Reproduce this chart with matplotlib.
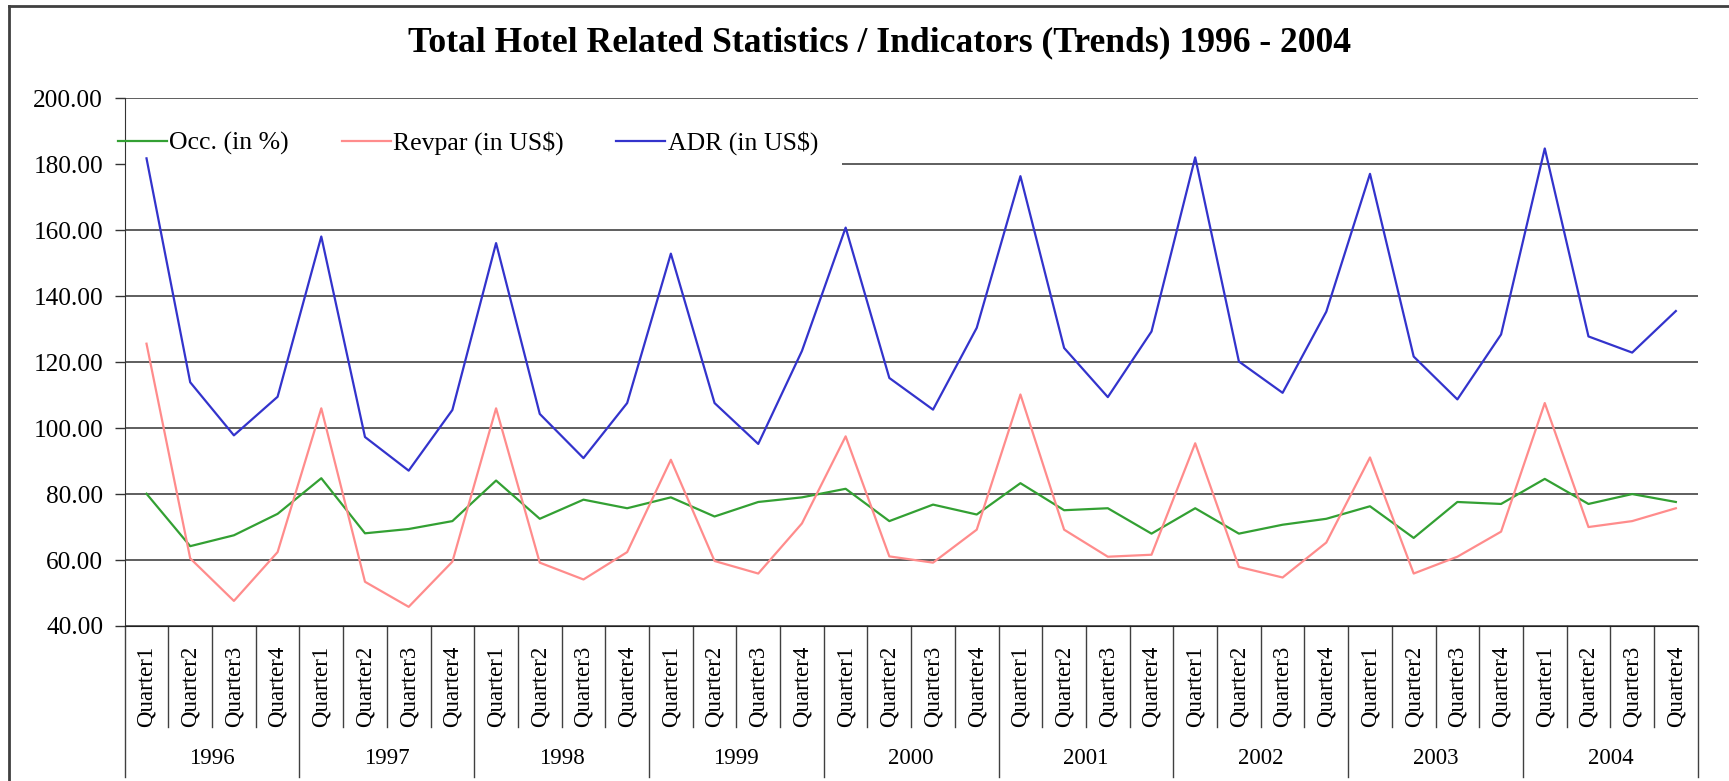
import matplotlib.pyplot as plt
from matplotlib.lines import Line2D
from matplotlib.patches import Rectangle

years = ['1996', '1997', '1998', '1999', '2000', '2001', '2002', '2003', '2004']
quarters = ['Quarter1', 'Quarter2', 'Quarter3', 'Quarter4']

occ = [80.1, 64.2, 67.5, 74.0, 84.8, 68.1, 69.4, 71.8, 84.1, 72.5, 78.3, 75.7,
       79.0, 73.2, 77.6, 79.0, 81.6, 71.8, 76.8, 73.8, 83.3, 75.1, 75.7, 68.0,
       75.7, 68.0, 70.7, 72.5, 76.3, 66.7, 77.6, 77.0, 84.6, 77.0, 80.0, 77.6]
revpar = [125.6, 60.5, 47.6, 62.4, 106.0, 53.4, 45.8, 59.5, 106.0, 59.2, 54.1, 62.4,
          90.4, 59.7, 55.9, 71.1, 97.5, 61.1, 59.2, 69.2, 110.2, 69.2, 61.0, 61.6,
          95.4, 57.9, 54.7, 65.3, 91.1, 55.9, 61.0, 68.6, 107.6, 70.0, 71.8, 75.7]
adr = [181.8, 113.9, 97.8, 109.5, 158.1, 97.3, 87.1, 105.5, 156.1, 104.3, 90.9, 107.6,
       152.9, 107.6, 95.2, 123.4, 160.8, 115.2, 105.6, 130.4, 176.4, 124.3, 109.4, 129.3,
       182.1, 120.2, 110.7, 135.3, 177.1, 121.7, 108.7, 128.4, 184.8, 127.8, 122.9, 135.5]

plt.rcParams['font.family'] = ['Liberation Serif', 'DejaVu Serif']

fig = plt.figure(figsize=(17.29, 7.81), dpi=100)
ax = fig.add_axes([0.0721, 0.1985, 0.9098, 0.6756])

x = list(range(len(occ)))
ax.plot(x, occ, color='#33A033', lw=1.6, label='Occ. (in %)', zorder=3)
ax.plot(x, revpar, color='#FF8C8C', lw=1.6, label='Revpar (in US$)', zorder=3)
ax.plot(x, adr, color='#3333CC', lw=1.6, label='ADR (in US$)', zorder=3)

ax.set_xlim(-0.5, len(occ) - 0.5)
ax.set_ylim(40, 200)
ax.set_yticks(range(40, 201, 20))
ax.set_yticklabels([f'{v:.2f}' for v in range(40, 201, 20)], fontsize=18.2)
ax.yaxis.grid(True, color='#333333', lw=1.1, zorder=1)
ax.tick_params(axis='y', length=7, width=1, pad=8.5, color='#333333')
ax.set_xticks([])
for side in ['top', 'right']:
    ax.spines[side].set_visible(False)
ax.spines['left'].set_color('#333333')
ax.spines['bottom'].set_color('#202020')

# white area behind the legend hides part of the 180 gridline
ax.add_patch(Rectangle((0.001, 0.855), 0.455, 0.045, transform=ax.transAxes,
                       facecolor='white', edgecolor='none', zorder=2))

# category axis: quarters and years
trans = ax.get_xaxis_transform()
for i in range(len(occ)):
    ax.text(i, -0.1146, quarters[i % 4], rotation=90, ha='center', va='center',
            fontsize=16.5, transform=trans, clip_on=False)
for i in range(len(occ) + 1):
    bottom = -0.2862 if i % 4 == 0 else -0.1914
    ax.add_line(Line2D([i - 0.5, i - 0.5], [0, bottom], transform=trans,
                       color='#404040', lw=1, clip_on=False))
for k, yr in enumerate(years):
    ax.text(4 * k + 1.5, -0.252, yr, ha='center', va='center', fontsize=16.5,
            transform=trans, clip_on=False)

leg = ax.legend(loc='center left', bbox_to_anchor=(-0.0042, 0.915), ncol=3, frameon=False,
                fontsize=18.5, handlelength=1.9, handletextpad=0.1, columnspacing=2.05,
                borderpad=0, borderaxespad=0)
leg.set_zorder(4)

fig.text(0.5086, 0.945, 'Total Hotel Related Statistics / Indicators (Trends) 1996 - 2004',
         ha='center', va='center', fontsize=25.6, fontweight='bold')

# outer chart border (top and left edges visible)
fig.add_artist(Line2D([0.005, 1.0], [0.9927, 0.9927], color='#404040', lw=2))
fig.add_artist(Line2D([0.005, 0.005], [0.0, 0.9927], color='#404040', lw=2))

fig.savefig('out.png', dpi=100)
